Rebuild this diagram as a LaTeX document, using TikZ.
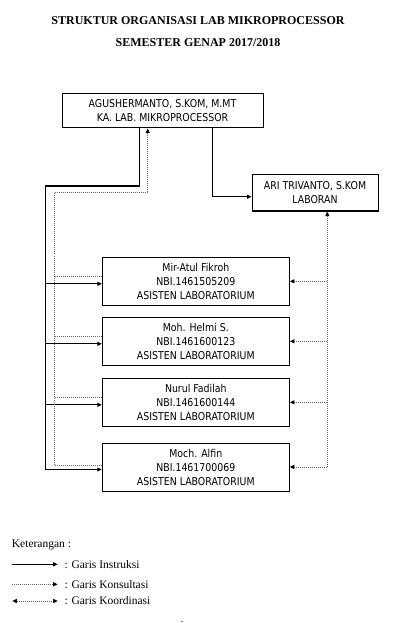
\documentclass[tikz,border=0pt]{standalone}
\usepackage{fontspec}
\setmainfont{Liberation Serif}
\newfontfamily\boxfont[FakeStretch=0.87]{DejaVu Sans}
\usetikzlibrary{arrows.meta}
\begin{document}
\begin{tikzpicture}[x=1pt,y=-1pt,
  box/.style={draw, line width=1pt, inner sep=0pt, align=center, font=\boxfont\fontsize{10.8}{14}\selectfont},
  sline/.style={line width=1.1pt, black},
  dline/.style={line width=1pt, black!60, dash pattern=on 1pt off 1pt},
  tipend/.style={-{Triangle[length=4.5pt,width=4pt,color=black]}},
  tipstart/.style={{Triangle[length=4.5pt,width=4pt,color=black]}-},
  tipboth/.style={{Triangle[length=4.5pt,width=4pt,color=black]}-{Triangle[length=4.5pt,width=4pt,color=black]}},
  titletext/.style={font=\fontsize{12}{14}\selectfont\bfseries, inner sep=0pt},
  legtext/.style={font=\fontsize{11.5}{13}\selectfont, inner sep=0pt, anchor=west}
]
\useasboundingbox (0,0) rectangle (401,628);

% titles
\node[titletext] (t1) at (198,21) {STRUKTUR ORGANISASI LAB MIKROPROCESSOR};
\node[titletext] (t2) at (198,42.7) {SEMESTER GENAP 2017/2018};

% boxes
\node[box, minimum width=201pt, minimum height=34pt] (top) at (162.5,111)
  {\fontsize{10.8}{13}\selectfont AGUSHERMANTO, S.KOM, M.MT\\ KA. LAB. MIKROPROCESSOR};
\node[box, minimum width=126pt, minimum height=36pt] (lab) at (315,193)
  {\fontsize{10.8}{16.5}\selectfont ARI TRIVANTO, S.KOM\\ LABORAN};
\node[box, minimum width=187pt, minimum height=48pt] (a1) at (195.8,281.3)
  {Mir-Atul Fikroh\\ NBI.1461505209\\ ASISTEN LABORATORIUM};
\node[box, minimum width=187pt, minimum height=48pt] (a2) at (195.8,341.3)
  {Moh. Helmi S.\\ NBI.1461600123\\ ASISTEN LABORATORIUM};
\node[box, minimum width=187pt, minimum height=48pt] (a3) at (195.8,402.3)
  {Nurul Fadilah\\ NBI.1461600144\\ ASISTEN LABORATORIUM};
\node[box, minimum width=187pt, minimum height=48pt] (a4) at (195.8,467)
  {Moch. Alfin\\ NBI.1461700069\\ ASISTEN LABORATORIUM};

% bend points
\coordinate (s1) at (139.3,186);
\coordinate (s2) at (45.7,186);
\coordinate (d1) at (147.7,193);
\coordinate (d2) at (54.3,193);
\coordinate (r1) at (212.3,196.7);
\coordinate (k1) at (327.3,211);
\foreach \b in {a1,a2,a3,a4}{
  \coordinate (\b s) at ([yshift=-2.5pt]\b.west);
  \coordinate (\b d) at ([yshift=5pt]\b.west);
}
\coordinate (a4dd) at ([yshift=2pt]a4.west);

% instruction lines (solid)
\draw[sline] (top.south -| s1) -- (s1) -- (s2) -- (s2 |- a4s);
\foreach \b in {a1,a2,a3,a4}
  \draw[sline, tipend] (s2 |- \b s) -- (\b s);
\draw[sline, tipend] (top.south -| r1) -- (r1) -- (lab.west |- r1);

% consultation lines (dotted)
\draw[dline, tipend] (a4dd) -- (d2 |- a4dd) -- (d2) -- (d1) -- (top.south -| d1);
\foreach \b in {a1,a2,a3}
  \draw[dline] (\b d) -- (d2 |- \b d);

% coordination lines (dotted)
\draw[dline, tipstart] (lab.south -| k1) -- (k1 |- a4.east);
\foreach \b in {a1,a2,a3,a4}
  \draw[dline, tipend] (k1 |- \b.east) -- (\b.east);

% legend
\node[legtext] (ket) at (11.7,545) {Keterangan :};
\coordinate (l1a) at (12.3,564.3); \coordinate (l1b) at (57.7,564.3);
\coordinate (l2a) at (12.3,584.3); \coordinate (l2b) at (57.7,584.3);
\coordinate (l3a) at (12.3,601);   \coordinate (l3b) at (57.7,601);
\draw[sline, line width=1pt, tipend] (l1a) -- (l1b);
\draw[dline, tipend] (l2a) -- (l2b);
\draw[dline, tipboth] (l3a) -- (l3b);
\node[legtext] (g1) at (64.3,564.3) {: Garis Instruksi};
\node[legtext] (g2) at (64.3,584.3) {: Garis Konsultasi};
\node[legtext] (g3) at (64.3,601) {: Garis Koordinasi};
\node[font=\fontsize{10}{10}\selectfont, inner sep=0pt] (dot) at (182,622) {.};
\end{tikzpicture}
\end{document}
